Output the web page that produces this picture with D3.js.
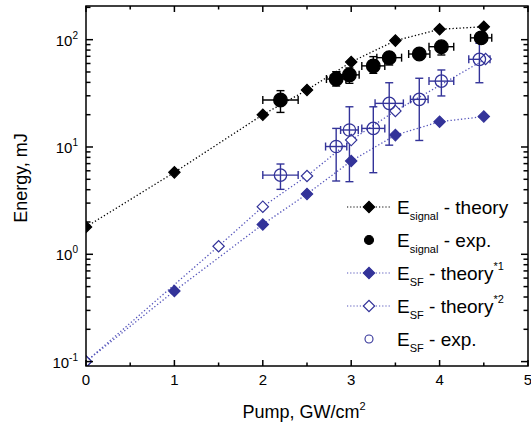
<!DOCTYPE html>
<html lang="en">
<head>
    <meta charset="UTF-8">
    <title>Energy vs Pump</title>
    <script src="https://d3js.org/d3.v7.min.js"></script>
    <style>
        body { margin: 0; background: #fff; }
        svg { display: block; font-family: Arial, "Liberation Sans", sans-serif; }
    </style>
</head>
<body>
    <svg width="531" height="427"></svg>

    <script>
        // ---- data ----
        let sigTheoryX = [0, 1, 2, 2.5, 3, 3.5, 4, 4.5];
        let sigTheoryY = [1.8, 5.8, 20, 34, 62, 98, 125, 132];

        let sigExpX  = [2.2, 2.83, 2.98, 3.25, 3.43, 3.77, 4.02, 4.47];
        let sigExpY  = [27.4, 43, 47, 57, 68, 73.5, 86, 104];
        let sigExpDx = [0.2, 0.11, 0.11, 0.13, 0.14, 0.12, 0.14, 0.12];
        let sigExpLo = [21, 37, 39.2, 48.6, 58.1, 65.7, 72, 92.5];
        let sigExpHi = [33.5, 50.3, 54.5, 69.5, 74.7, 80.2, 95.8, 116];

        let sfTheory1X = [0, 1, 2, 2.5, 3, 3.5, 4, 4.5];
        let sfTheory1Y = [0.1, 0.455, 1.9, 3.65, 7.4, 12.9, 17.2, 19.2];

        let sfTheory2X = [0, 1.5, 2, 2.5, 3, 3.5, 4.52];
        let sfTheory2Y = [0.1, 1.19, 2.78, 5.37, 11.6, 21.7, 66];

        let sfExpX  = [2.2, 2.83, 2.98, 3.25, 3.43, 3.77, 4.02, 4.45];
        let sfExpY  = [5.47, 10.1, 14.4, 14.9, 25.5, 27.8, 41.1, 65.6];
        let sfExpDx = [0.2, 0.12, 0.1, 0.13, 0.16, 0.1, 0.14, 0.12];
        let sfExpLo = [4.03, 4.82, 4.75, 5.76, 10.4, 11.5, 29.9, 39.7];
        let sfExpHi = [6.94, 14.9, 23.7, 23.7, 39.7, 43.7, 52.2, 92.5];

        let xTicks = [0, 1, 2, 3, 4, 5];
        let yTickExp = [-1, 0, 1, 2];

        let black = "#000";
        let blue = "#333399";
        let blueLine = "#5555bb";

        let width = 531, height = 427;
        let margin = { top: 6, right: 3, bottom: 61, left: 86 };

        let svg = d3.select("svg");

        let x = d3.scaleLinear().domain([0, 5]).range([margin.left, width - margin.right]);
        let y = d3.scaleLog().domain([0.091, 206]).range([height - margin.bottom, margin.top]);

        let zip = (xs, ys) => xs.map((v, i) => ({ x: v, y: ys[i] }));

        let pLeft = x(0), pRight = x(5), pTop = y.range()[1], pBottom = y.range()[0];

        svg.append("clipPath").attr("id", "plot")
            .append("rect")
            .attr("x", pLeft).attr("y", pTop)
            .attr("width", pRight - pLeft).attr("height", pBottom - pTop);

        let g = svg.append("g").attr("clip-path", "url(#plot)");

        let line = d3.line().x(d => x(d.x)).y(d => y(d.y));

        // dotted theory lines
        function drawLine(data, color) {
            g.append("path")
                .datum(data)
                .attr("d", line)
                .attr("fill", "none")
                .attr("stroke", color)
                .attr("stroke-width", 1.3)
                .attr("stroke-dasharray", "1.3,2.2");
        }
        drawLine(zip(sigTheoryX, sigTheoryY), black);
        drawLine(zip(sfTheory1X, sfTheory1Y), blueLine);
        drawLine(zip(sfTheory2X, sfTheory2Y), blueLine);

        // error bars
        function drawErrors(xs, ys, dx, lo, hi, color) {
            let eg = g.append("g").attr("stroke", color).attr("stroke-width", 1.4);
            xs.forEach((xv, i) => {
                let cx = x(xv), cy = y(ys[i]);
                let x0 = x(xv - dx[i]), x1 = x(xv + dx[i]);
                let y0 = y(lo[i]), y1 = y(hi[i]);
                eg.append("line").attr("x1", x0).attr("x2", x1).attr("y1", cy).attr("y2", cy);
                eg.append("line").attr("x1", x0).attr("x2", x0).attr("y1", cy - 4).attr("y2", cy + 4);
                eg.append("line").attr("x1", x1).attr("x2", x1).attr("y1", cy - 4).attr("y2", cy + 4);
                eg.append("line").attr("x1", cx).attr("x2", cx).attr("y1", y0).attr("y2", y1);
                eg.append("line").attr("x1", cx - 4).attr("x2", cx + 4).attr("y1", y0).attr("y2", y0);
                eg.append("line").attr("x1", cx - 4).attr("x2", cx + 4).attr("y1", y1).attr("y2", y1);
            });
        }
        drawErrors(sigExpX, sigExpY, sigExpDx, sigExpLo, sigExpHi, black);
        drawErrors(sfExpX, sfExpY, sfExpDx, sfExpLo, sfExpHi, blue);

        // diamond = square rotated by 45deg
        let diamondPath = d3.symbol().type(d3.symbolSquare).size(64)();

        function drawDiamonds(data, color, filled) {
            g.selectAll(null)
                .data(data)
                .enter().append("path")
                .attr("d", diamondPath)
                .attr("transform", d => `translate(${x(d.x)},${y(d.y)}) rotate(45)`)
                .attr("fill", filled ? color : "#fff")
                .attr("stroke", color)
                .attr("stroke-width", 1.2);
        }
        function drawCircles(data, color, filled) {
            g.selectAll(null)
                .data(data)
                .enter().append("circle")
                .attr("cx", d => x(d.x))
                .attr("cy", d => y(d.y))
                .attr("r", filled ? 6.8 : 6.2)
                .attr("fill", filled ? color : "none")
                .attr("stroke", color)
                .attr("stroke-width", 1.3);
        }

        drawDiamonds(zip(sigTheoryX, sigTheoryY), black, true);
        drawDiamonds(zip(sfTheory1X, sfTheory1Y), blue, true);
        drawDiamonds(zip(sfTheory2X, sfTheory2Y), blue, false);
        drawCircles(zip(sigExpX, sigExpY), black, true);
        drawCircles(zip(sfExpX, sfExpY), blue, false);

        // ---- axes, ticks on all four sides pointing inward ----
        let ax = svg.append("g").attr("stroke", "#000").attr("stroke-width", 1.5);

        ax.append("rect")
            .attr("x", pLeft).attr("y", pTop)
            .attr("width", pRight - pLeft).attr("height", pBottom - pTop)
            .attr("fill", "none");

        d3.range(0, 5.01, 0.5).forEach(v => {
            let len = Number.isInteger(v) ? 6 : 3.5;
            ax.append("line").attr("x1", x(v)).attr("x2", x(v)).attr("y1", pBottom).attr("y2", pBottom - len);
            ax.append("line").attr("x1", x(v)).attr("x2", x(v)).attr("y1", pTop).attr("y2", pTop + len);
        });

        let yMinor = [];
        [-2, -1, 0, 1, 2].forEach(e => {
            for (let k = 1; k <= 9; k++) {
                let v = k * Math.pow(10, e);
                if (v >= y.domain()[0] && v <= y.domain()[1]) yMinor.push({ v, major: k === 1 });
            }
        });
        yMinor.forEach(t => {
            let len = t.major ? 7 : 4.5;
            ax.append("line").attr("x1", pLeft).attr("x2", pLeft + len).attr("y1", y(t.v)).attr("y2", y(t.v));
            ax.append("line").attr("x1", pRight).attr("x2", pRight - len).attr("y1", y(t.v)).attr("y2", y(t.v));
        });

        svg.selectAll(".xtick")
            .data(xTicks)
            .enter().append("text")
            .attr("x", d => x(d))
            .attr("y", pBottom + 19)
            .attr("text-anchor", "middle")
            .attr("font-size", 15)
            .text(d => d);

        let ylab = svg.selectAll(".ytick")
            .data(yTickExp)
            .enter().append("text")
            .attr("x", pLeft - 8)
            .attr("y", d => y(Math.pow(10, d)) + 6)
            .attr("text-anchor", "end")
            .attr("font-size", 15);
        ylab.append("tspan").text("10");
        ylab.append("tspan").attr("font-size", 10).attr("dy", -7).text(d => d);

        // axis titles
        let xt = svg.append("text")
            .attr("x", (pLeft + pRight) / 2 - 3)
            .attr("y", 418)
            .attr("text-anchor", "middle")
            .attr("font-size", 18);
        xt.append("tspan").text("Pump, GW/cm");
        xt.append("tspan").attr("font-size", 11).attr("dy", -8).text("2");

        svg.append("text")
            .attr("transform", `translate(27,${(pTop + pBottom) / 2 - 8}) rotate(-90)`)
            .attr("text-anchor", "middle")
            .attr("font-size", 18)
            .text("Energy, mJ");

        // ---- legend ----
        let legendItems = [
            { sub: "signal", rest: " - theory", sup: "", color: black, mark: "diamond", filled: true, line: true },
            { sub: "signal", rest: " - exp.", sup: "", color: black, mark: "circle", filled: true, line: false },
            { sub: "SF", rest: " - theory", sup: "*1", color: blue, mark: "diamond", filled: true, line: true },
            { sub: "SF", rest: " - theory", sup: "*2", color: blue, mark: "diamond", filled: false, line: true },
            { sub: "SF", rest: " - exp.", sup: "", color: blue, mark: "circle", filled: false, line: false }
        ];
        let lg = svg.append("g");
        legendItems.forEach((it, i) => {
            let cy = 207 + i * 33;
            let mx = 369;
            if (it.line) {
                lg.append("line")
                    .attr("x1", 347).attr("x2", 391).attr("y1", cy).attr("y2", cy)
                    .attr("stroke", it.color === black ? black : blueLine)
                    .attr("stroke-width", 1.2)
                    .attr("stroke-dasharray", "1.2,2");
            }
            if (it.mark === "diamond") {
                lg.append("path")
                    .attr("d", diamondPath)
                    .attr("transform", `translate(${mx},${cy}) rotate(45)`)
                    .attr("fill", it.filled ? it.color : "#fff")
                    .attr("stroke", it.color).attr("stroke-width", 1.2);
            } else {
                lg.append("circle")
                    .attr("cx", mx).attr("cy", cy)
                    .attr("r", it.filled ? 4.5 : 4)
                    .attr("fill", it.filled ? it.color : "none")
                    .attr("stroke", it.color).attr("stroke-width", 1.1);
            }
            let t = lg.append("text")
                .attr("x", 397).attr("y", cy + 7)
                .attr("font-size", 19);
            t.append("tspan").text("E");
            t.append("tspan").attr("font-size", 11).attr("dy", 6).text(it.sub);
            t.append("tspan").attr("dy", -6).text(it.rest);
            if (it.sup) t.append("tspan").attr("font-size", 11).attr("dy", -10).text(it.sup);
        });
    </script>
</body>
</html>
